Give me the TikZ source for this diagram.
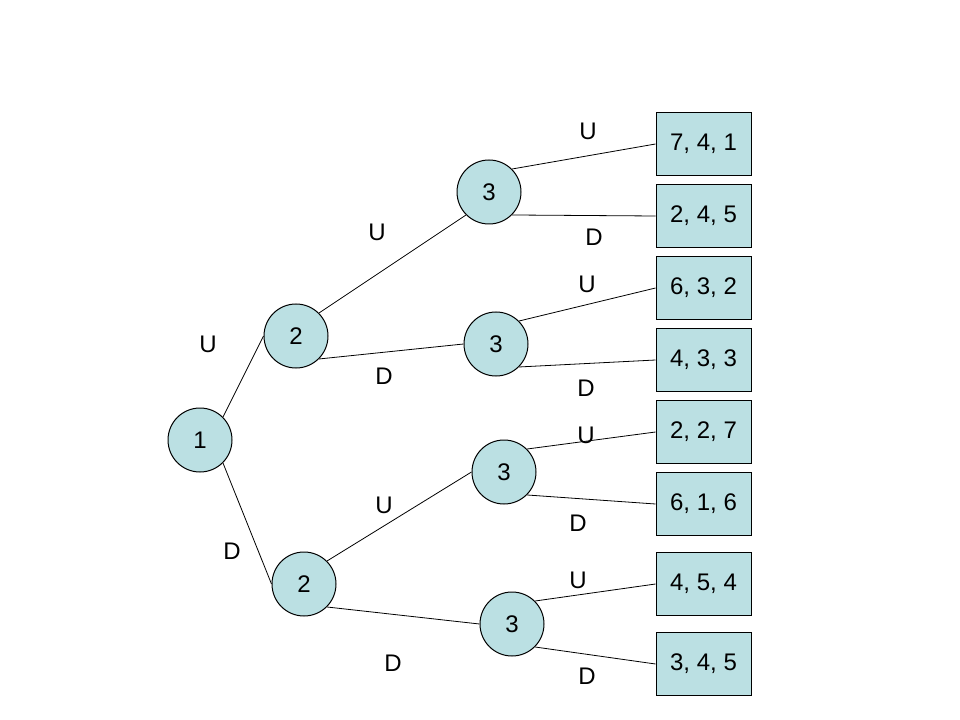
\documentclass[tikz,border=0pt]{standalone}
\usepackage{fontspec}
\setmainfont{Liberation Sans}
\definecolor{nodefill}{RGB}{187,224,227}

\begin{document}
\begin{tikzpicture}[x=0.75pt,y=-0.75pt,
  decnode/.style={circle,draw=black,fill=nodefill,line width=0.75pt,minimum size=48pt,inner sep=0pt,font=\fontsize{18}{21}\selectfont},
  payoff/.style={rectangle,draw=black,fill=nodefill,line width=0.75pt,minimum width=71.25pt,minimum height=47.25pt,inner sep=0pt,font=\fontsize{18}{21}\selectfont},
  lbl/.style={inner sep=0pt,font=\fontsize{18}{21}\selectfont},
  edge/.style={draw=black,line width=0.6pt}]
\useasboundingbox (0,0) rectangle (960,720);
% Drawing decision nodes
\node[decnode] (n1) at (200,440) {1};
\node[decnode] (n2u) at (296,336) {2};
\node[decnode] (n2d) at (304,584) {2};
\node[decnode] (n3uu) at (489,192) {3};
\node[decnode] (n3ud) at (496,344) {3};
\node[decnode] (n3du) at (504,472) {3};
\node[decnode] (n3dd) at (512,624) {3};
% Drawing payoffs
\node[payoff] (p1) at (703.5,144) {7, 4, 1};
\node[payoff] (p2) at (703.5,216) {2, 4, 5};
\node[payoff] (p3) at (703.5,288) {6, 3, 2};
\node[payoff] (p4) at (703.5,360) {4, 3, 3};
\node[payoff] (p5) at (703.5,432) {2, 2, 7};
\node[payoff] (p6) at (703.5,504) {6, 1, 6};
\node[payoff] (p7) at (703.5,584) {4, 5, 4};
\node[payoff] (p8) at (703.5,664) {3, 4, 5};
% Drawing branches
\draw[edge] (n1.45) -- (n2u.west);
\draw[edge] (n1.-45) -- (n2d.west);
\draw[edge] (n2u.45) -- (n3uu.225);
\draw[edge] (n2u.-45) -- (n3ud.west);
\draw[edge] (n2d.45) -- (n3du.west);
\draw[edge] (n2d.-45) -- (n3dd.west);
\draw[edge] (n3uu.45) -- (p1.west);
\draw[edge] (n3uu.-45) -- (p2.west);
\draw[edge] (n3ud.45) -- (p3.west);
\draw[edge] (n3ud.-45) -- (p4.west);
\draw[edge] (n3du.45) -- (p5.west);
\draw[edge] (n3du.-45) -- (p6.west);
\draw[edge] (n3dd.45) -- (p7.west);
\draw[edge] (n3dd.-45) -- (p8.west);
% Drawing branch labels
\node[lbl] (l1u) at (208,344) {U};
\node[lbl] (l1d) at (232,551) {D};
\node[lbl] (l2uu) at (377,232) {U};
\node[lbl] (l2ud) at (384,376) {D};
\node[lbl] (l2du) at (384,505) {U};
\node[lbl] (l2dd) at (393,663) {D};
\node[lbl] (l3a) at (588,131) {U};
\node[lbl] (l3b) at (594,237) {D};
\node[lbl] (l3c) at (587,284) {U};
\node[lbl] (l3d) at (586,388) {D};
\node[lbl] (l3e) at (586,435) {U};
\node[lbl] (l3f) at (578,523) {D};
\node[lbl] (l3g) at (578,580) {U};
\node[lbl] (l3h) at (587,676) {D};
\end{tikzpicture}
\end{document}
